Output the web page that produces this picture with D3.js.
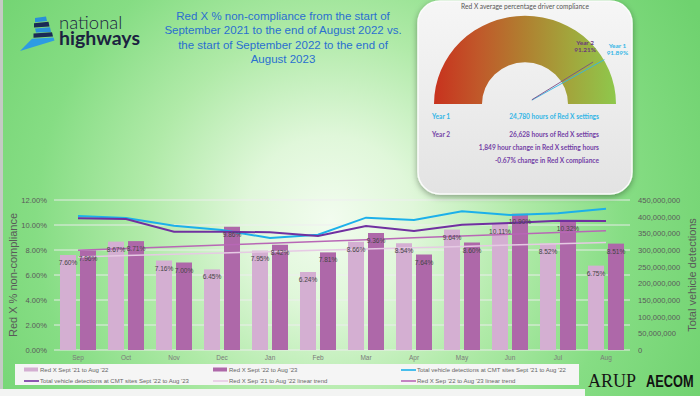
<!DOCTYPE html>
<html><head><meta charset="utf-8">
<script src="https://cdn.jsdelivr.net/npm/d3@7"></script>
<style>html,body{margin:0;padding:0;background:#fff;}svg{display:block}</style>
</head><body><svg id="c" width="700" height="396"></svg>
<script>
// ---------- DATA ----------
const months = ["Sep","Oct","Nov","Dec","Jan","Feb","Mar","Apr","May","Jun","Jul","Aug"];
const redX21 = [7.60,8.67,7.16,6.45,7.95,6.24,8.66,8.54,9.64,10.11,8.52,6.75];
const redX22 = [7.96,8.71,7.00,9.86,8.42,7.81,9.36,7.64,8.60,10.90,10.32,8.51];
const vehicles21 = [402000000,396000000,373000000,360000000,336000000,346000000,397000000,390000000,416000000,405000000,410000000,424000000];
const vehicles22 = [395000000,393000000,355000000,355000000,353000000,342000000,372000000,357000000,376000000,381000000,388000000,387000000];
const leftTicks = [0,2,4,6,8,10,12];
const rightTicks = [0,50000000,100000000,150000000,200000000,250000000,300000000,350000000,400000000,450000000];
const titleLines = ["Red X % non-compliance from the start of","September 2021 to the end of August 2022 vs.","the start of September 2022 to the end of","August 2023"];
const legendLabels = ["Red X Sept '21 to Aug '22","Red X Sept '22 to Aug '23","Total vehicle detections at CMT sites Sept '21 to Aug '22",
  "Total vehicle detections at CMT sites Sept '22 to Aug '23","Red X Sep '21 to Aug '22 linear trend","Red X Sep '22 to Aug '23 linear trend"];
const gaugeYears = ["Year 1","Year 2"];
const gaugeCompliance = [91.89, 91.21];
const gaugeHours = ["24,780 hours of Red X settings","26,628 hours of Red X settings"];
const gaugeNotes = ["1,849 hour change in Red X setting hours","-0.67% change in Red X compliance"];

// ---------- STYLE ----------
const C = {bar1:"#d4afd2", bar2:"#ae68a9", blue:"#1cb0ea", purple:"#7030a0", trend1:"#e6cae4", trend2:"#b867b6",
  tick:"#5a5a5a", cyan:"#33b6e6", gpurple:"#7442a6"};
const svg = d3.select("#c");
const defs = svg.append("defs");

const bg = defs.append("radialGradient").attr("id","bg").attr("gradientUnits","userSpaceOnUse")
  .attr("cx",330).attr("cy",220).attr("r",420);
[[0,"#f2fcef"],[0.2,"#e0f7da"],[0.45,"#b0eaa8"],[0.7,"#86dd84"],[1,"#6fd26f"]].forEach(s=>bg.append("stop").attr("offset",s[0]).attr("stop-color",s[1]));
svg.append("rect").attr("width",700).attr("height",396).attr("fill","url(#bg)");
svg.append("rect").attr("x",0).attr("y",0).attr("width",3).attr("height",396).attr("fill","#c4cac4");
svg.append("rect").attr("x",0).attr("y",389).attr("width",585).attr("height",7).attr("fill","#f3f4f3");

// ---------- LOGO ----------
const logo = svg.append("g");
const logoShapes = [
  {p:[[35,18],[46,16.5],[47,21],[35,22.2]], c:"#2a8fd8"},
  {p:[[34,23.2],[48.5,21.8],[49.5,26.4],[34,27.6]], c:"#1b2a55"},
  {p:[[35,28.6],[50,27.2],[51,32],[36,32.6]], c:"#2a8fd8"},
  {p:[[33.5,33.6],[52,32.2],[53,36.6],[33.5,37.8]], c:"#1b2a55"},
  {p:[[32,38.8],[53.5,37.4],[54.5,40.4],[20,51]], c:"#2d9be3"}
];
logoShapes.forEach(s=>logo.append("path").attr("d","M"+s.p.map(q=>q.join(",")).join("L")+"Z").attr("fill",s.c));
const lt = logo.append("text").attr("font-family","Lato, 'Open Sans', sans-serif").attr("fill","#1b2240");
lt.append("tspan").attr("x",59).attr("y",28.5).attr("font-size",18.5).attr("font-weight",300).text("national");
lt.append("tspan").attr("x",59).attr("y",45).attr("font-size",19.5).attr("font-weight",700).text("highways");

// ---------- TITLE ----------
svg.append("g").selectAll("text").data(titleLines).join("text")
  .attr("x",283).attr("y",(d,i)=>20+i*14.3).attr("text-anchor","middle")
  .attr("font-family","'Liberation Sans', Arial, sans-serif").attr("font-size",11.5).attr("fill","#2a6fd0").text(d=>d);

// ---------- CHART ----------
const x = d3.scaleBand().domain(months).range([54,630]).paddingInner(0).paddingOuter(0);
const xs = d3.scaleBand().domain(["a","b"]).range([0,x.bandwidth()]).paddingInner(0.2).paddingOuter(0.3);
const yL = d3.scaleLinear().domain([0,12]).range([350,200]);
const yR = d3.scaleLinear().domain([0,450000000]).range([350,200]);

const grid = svg.append("g");
grid.selectAll("line").data(leftTicks).join("line")
  .attr("x1",54).attr("x2",630).attr("y1",d=>yL(d)).attr("y2",d=>yL(d))
  .attr("stroke","#f0ecf2").attr("stroke-opacity",0.9).attr("stroke-width",1);

const axL = svg.append("g").attr("transform","translate(54,0)")
  .call(d3.axisLeft(yL).tickValues(leftTicks).tickFormat(d=>d.toFixed(2)+"%").tickSize(0).tickPadding(7));
const axR = svg.append("g").attr("transform","translate(630,0)")
  .call(d3.axisRight(yR).tickValues(rightTicks).tickFormat(d3.format(",")).tickSize(0).tickPadding(8));
const axB = svg.append("g").attr("transform","translate(0,350)")
  .call(d3.axisBottom(x).tickSize(0).tickPadding(5));
[axL,axR,axB].forEach(a=>{a.select(".domain").remove();
  a.selectAll("text").attr("font-family","'Liberation Sans', Arial, sans-serif").attr("fill",C.tick).attr("font-size",7.6);});
axB.selectAll("text").attr("font-size",6.5).attr("fill","#7a7a7a");

svg.append("text").attr("transform","translate(17,275) rotate(-90)").attr("text-anchor","middle")
  .attr("font-family","'Liberation Sans', Arial, sans-serif").attr("font-size",11).attr("fill",C.tick).text("Red X % non-compliance");
svg.append("text").attr("transform","translate(696,275) rotate(-90)").attr("text-anchor","middle")
  .attr("font-family","'Liberation Sans', Arial, sans-serif").attr("font-size",11).attr("fill",C.tick).text("Total vehicle detections");

const bars = svg.append("g");
[[redX21,"a",C.bar1],[redX22,"b",C.bar2]].forEach(([vals,k,col])=>{
  bars.append("g").selectAll("rect").data(vals).join("rect")
    .attr("x",(d,i)=>x(months[i])+xs(k)).attr("width",xs.bandwidth())
    .attr("y",d=>yL(d)).attr("height",d=>yL(0)-yL(d)).attr("fill",col);
});

// linear trends (least squares on each series)
function trend(vals){
  const n=vals.length, xm=(n-1)/2, ym=d3.mean(vals);
  const b=d3.sum(vals,(v,i)=>(i-xm)*(v-ym))/d3.sum(vals,(v,i)=>(i-xm)*(i-xm));
  return vals.map((v,i)=>ym+b*(i-xm));
}
const cx = i => x(months[i])+x.bandwidth()/2;
const lineL = d3.line().x((d,i)=>cx(i)).y(d=>yL(d));
const lineR = d3.line().x((d,i)=>cx(i)).y(d=>yR(d));
svg.append("path").attr("d",lineL(trend(redX21))).attr("fill","none").attr("stroke",C.trend1).attr("stroke-width",1.5);
svg.append("path").attr("d",lineL(trend(redX22))).attr("fill","none").attr("stroke",C.trend2).attr("stroke-width",1.5);
svg.append("path").attr("d",lineR(vehicles21)).attr("fill","none").attr("stroke",C.blue).attr("stroke-width",2);
svg.append("path").attr("d",lineR(vehicles22)).attr("fill","none").attr("stroke",C.purple).attr("stroke-width",2);

const labs = svg.append("g").attr("font-family","'Liberation Sans', Arial, sans-serif").attr("font-size",6.6).attr("fill","#454545").attr("text-anchor","middle");
[[redX21,"a"],[redX22,"b"]].forEach(([vals,k])=>{
  labs.append("g").selectAll("text").data(vals).join("text")
    .attr("x",(d,i)=>x(months[i])+xs(k)+xs.bandwidth()/2).attr("y",d=>yL(d)+10)
    .text(d=>d.toFixed(2)+"%");
});

// ---------- LEGEND ----------
const lg = svg.append("g");
lg.append("rect").attr("x",15).attr("y",364).attr("width",564).attr("height",21).attr("fill","#f5f5f5");
const legCols=[24,213,401], legRows=[370,381];
const legItems = [
  {t:"rect",c:C.bar1},{t:"rect",c:C.bar2},{t:"line",c:C.blue},
  {t:"line",c:C.purple},{t:"line",c:C.trend1},{t:"line",c:C.trend2}];
legItems.forEach((it,i)=>{
  const lx=legCols[i%3], ly=legRows[Math.floor(i/3)];
  if(it.t==="rect") lg.append("rect").attr("x",lx).attr("y",ly-2.5).attr("width",14).attr("height",4).attr("fill",it.c);
  else lg.append("line").attr("x1",lx).attr("x2",lx+15).attr("y1",ly).attr("y2",ly).attr("stroke",it.c).attr("stroke-width",1.6);
  lg.append("text").attr("x",lx+16).attr("y",ly+2).attr("font-family","'Liberation Sans', Arial, sans-serif")
    .attr("font-size",6).attr("fill","#666").text(legendLabels[i]);
});

// ---------- ARUP AECOM ----------
svg.append("text").attr("transform","translate(588,386.5) scale(1,1.1)").attr("font-family","'Liberation Serif', 'Times New Roman', serif")
  .attr("font-size",18).attr("fill","#151515").text("ARUP");
svg.append("text").attr("transform","translate(646,386.5) scale(1,1.35)").attr("font-family","'Liberation Sans', Arial, sans-serif")
  .attr("font-size",12.8).attr("font-weight",700).attr("fill","#111").text("AECOM");

// ---------- GAUGE PANEL ----------
const sh = defs.append("filter").attr("id","sh").attr("x","-20%").attr("y","-20%").attr("width","140%").attr("height","140%");
sh.append("feDropShadow").attr("dx",0).attr("dy",2).attr("stdDeviation",3).attr("flood-color","#000").attr("flood-opacity",0.35);
const pg = defs.append("linearGradient").attr("id","pg").attr("x1",0).attr("x2",0).attr("y1",0).attr("y2",1);
pg.append("stop").attr("offset",0).attr("stop-color","#f6f6f6");
pg.append("stop").attr("offset",1).attr("stop-color","#e3e3e3");
svg.append("rect").attr("x",418).attr("y",1).attr("width",214).attr("height",193).attr("rx",22)
  .attr("fill","url(#pg)").attr("stroke","#fbfbfb").attr("stroke-width",1.5).attr("filter","url(#sh)");

const gp = svg.append("g").attr("font-family","Lato, 'Liberation Sans', sans-serif");
gp.append("text").attr("x",525).attr("y",9).attr("text-anchor","middle").attr("font-size",6.6).attr("fill","#555")
  .text("Red X average percentage driver compliance");

const gcx=525, gcy=104;
const gg = defs.append("linearGradient").attr("id","gg").attr("gradientUnits","userSpaceOnUse").attr("x1",-91).attr("x2",91).attr("y1",0).attr("y2",0);
[[0,"#c8321e"],[0.25,"#c0592a"],[0.5,"#b08030"],[0.75,"#a2a63c"],[1,"#8ec84c"]].forEach(s=>gg.append("stop").attr("offset",s[0]).attr("stop-color",s[1]));
gp.append("path")
  .attr("d",d3.arc()({innerRadius:43,outerRadius:91,startAngle:-Math.PI/2,endAngle:Math.PI/2}))
  .attr("fill","url(#gg)").attr("transform",`translate(${gcx},${gcy}) scale(1,0.97)`);

const ang = d3.scaleLinear().domain([50,100]).range([-Math.PI/2,Math.PI/2]);
const needleLen=[91,80], needleCol=[C.cyan,"#7a4e86"], needleLblCol=[C.cyan,"#6b3a7a"];
const lblOff=[[13,-12],[-8,-17]];
gaugeCompliance.forEach((v,i)=>{
  const a=ang(v), L=needleLen[i];
  const x2=gcx+L*Math.sin(a), y2=gcy-L*Math.cos(a);
  gp.append("line").attr("x1",gcx+8*Math.sin(a)).attr("y1",gcy-8*Math.cos(a)).attr("x2",x2).attr("y2",y2)
    .attr("stroke",needleCol[i]).attr("stroke-width",0.9);
  const tx=x2+lblOff[i][0], ty=y2+lblOff[i][1];
  gp.append("text").attr("x",tx).attr("y",ty).attr("text-anchor","middle")
    .attr("font-size",6.4).attr("font-weight",700).attr("fill",needleLblCol[i]).text(gaugeYears[i]);
  gp.append("text").attr("x",tx).attr("y",ty+7.2).attr("text-anchor","middle")
    .attr("font-size",6.4).attr("font-weight",700).attr("fill",needleLblCol[i]).text(v.toFixed(2)+"%");
});

const rowCol=[C.cyan,C.gpurple], rowY=[119,137];
gaugeYears.forEach((g,i)=>{
  gp.append("text").attr("x",432).attr("y",rowY[i]).attr("font-size",6.6).attr("font-weight",700).attr("fill",rowCol[i]).text(g);
  gp.append("text").attr("x",599).attr("y",rowY[i]).attr("text-anchor","end").attr("font-size",6.6).attr("font-weight",700).attr("fill",rowCol[i]).text(gaugeHours[i]);
});
gaugeNotes.forEach((n,i)=>{
  gp.append("text").attr("x",599).attr("y",150+i*12.5).attr("text-anchor","end").attr("font-size",6.6).attr("font-weight",700).attr("fill",C.gpurple).text(n);
});
</script></body></html>
